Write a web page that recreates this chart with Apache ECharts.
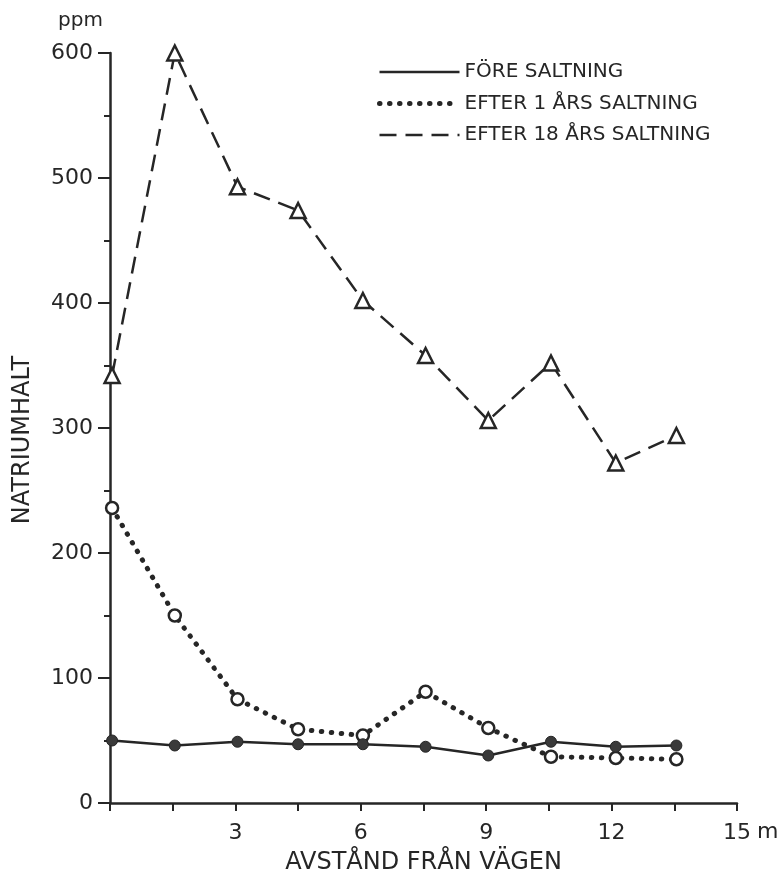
<!DOCTYPE html>
<html>
<head>
<meta charset="utf-8">
<script src="https://cdn.jsdelivr.net/npm/echarts@6/dist/echarts.min.js"></script>
<style>
html,body{margin:0;padding:0;background:#fff;}
#chart{width:781px;height:884px;}
</style>
</head>
<body>
<div id="chart"></div>
<script>
// Distance from road (m)
const distances = [0.05, 1.55, 3.05, 4.5, 6.05, 7.55, 9.05, 10.55, 12.1, 13.55];
// Sodium content (ppm)
const foreSaltning = [50, 46, 49, 47, 47, 45, 38, 49, 45, 46];
const efter1Ar = [236, 150, 83, 59, 54, 89, 60, 37, 36, 35];
const efter18Ar = [342, 600, 493, 474, 402, 358, 306, 352, 272, 294];
const seriesNames = ['FÖRE SALTNING', 'EFTER 1 ÅRS SALTNING', 'EFTER 18 ÅRS SALTNING'];
const yTicks = [0, 100, 200, 300, 400, 500, 600];
const xTickLabels = [3, 6, 9, 12, 15];

const ink = '#262626';
const font = 'DejaVu Sans';
const pairs = arr => distances.map((d, i) => [d, arr[i]]);

const solidStyle = {color: ink, width: 2.5, type: 'solid'};
const dotStyle = {color: ink, width: 5, type: [0.5, 9.5], cap: 'round'};
const dashStyle = {color: ink, width: 2.5, type: [17, 9]};

const chart = echarts.init(document.getElementById('chart'), null, {renderer: 'canvas'});
chart.setOption({
  backgroundColor: '#ffffff',
  animation: false,
  grid: {left: 110, right: 44, top: 53, bottom: 81, containLabel: false},
  legend: {
    orient: 'vertical',
    left: 372,
    top: 57,
    itemWidth: 80,
    itemHeight: 16,
    itemGap: 11.5,
    selectedMode: false,
    itemStyle: {opacity: 0},
    textStyle: {fontFamily: font, fontSize: 20, color: ink},
    data: [
      {name: seriesNames[0], lineStyle: solidStyle},
      {name: seriesNames[1], lineStyle: dotStyle},
      {name: seriesNames[2], lineStyle: dashStyle}
    ]
  },
  xAxis: {
    type: 'value',
    min: 0, max: 15, interval: 1.5,
    name: 'AVSTÅND FRÅN VÄGEN',
    nameLocation: 'middle',
    nameGap: 48,
    nameTextStyle: {fontFamily: font, fontSize: 24, color: ink},
    axisLine: {show: true, onZero: false, lineStyle: {color: ink, width: 2.5}},
    axisTick: {show: true, length: 8, lineStyle: {color: ink, width: 2}},
    axisLabel: {
      margin: 19, fontFamily: font, fontSize: 22, color: ink,
      formatter: v => (xTickLabels.indexOf(Math.round(v * 100) / 100) >= 0 ? String(Math.round(v)) : '')
    },
    splitLine: {show: false}
  },
  yAxis: {
    type: 'value',
    min: 0, max: 600, interval: 100,
    axisLine: {show: true, onZero: false, lineStyle: {color: ink, width: 2.5}},
    axisTick: {show: true, length: 12, lineStyle: {color: ink, width: 2}},
    minorTick: {show: true, splitNumber: 2, length: 6, lineStyle: {color: ink, width: 2}},
    axisLabel: {
      margin: 17, fontFamily: font, fontSize: 22, color: ink,
      formatter: v => (yTicks.indexOf(v) >= 0 ? String(v) : '')
    },
    splitLine: {show: false},
    minorSplitLine: {show: false}
  },
  graphic: [
    {type: 'text', left: 58, top: 11, style: {text: 'ppm', font: '20px "DejaVu Sans"', fill: ink}},
    {type: 'text', x: 23, y: 440, rotation: Math.PI / 2,
      style: {text: 'NATRIUMHALT', font: '24px "DejaVu Sans"', fill: ink, align: 'center', verticalAlign: 'middle'}},
    {type: 'text', left: 757, top: 821, style: {text: 'm', font: '22px "DejaVu Sans"', fill: ink}}
  ],
  series: [
    {
      name: seriesNames[0], type: 'line', data: pairs(foreSaltning),
      symbol: 'circle', symbolSize: 11,
      lineStyle: solidStyle,
      itemStyle: {color: '#3a3a3a', borderColor: ink, borderWidth: 1},
      z: 3
    },
    {
      name: seriesNames[1], type: 'line', data: pairs(efter1Ar),
      symbol: 'circle', symbolSize: 12,
      lineStyle: dotStyle,
      itemStyle: {color: '#ffffff', borderColor: ink, borderWidth: 2.5},
      z: 2
    },
    {
      name: seriesNames[2], type: 'line', data: pairs(efter18Ar),
      symbol: 'triangle', symbolSize: 15,
      lineStyle: dashStyle,
      itemStyle: {color: '#ffffff', borderColor: ink, borderWidth: 2.5},
      z: 2
    }
  ]
});
</script>
</body>
</html>
